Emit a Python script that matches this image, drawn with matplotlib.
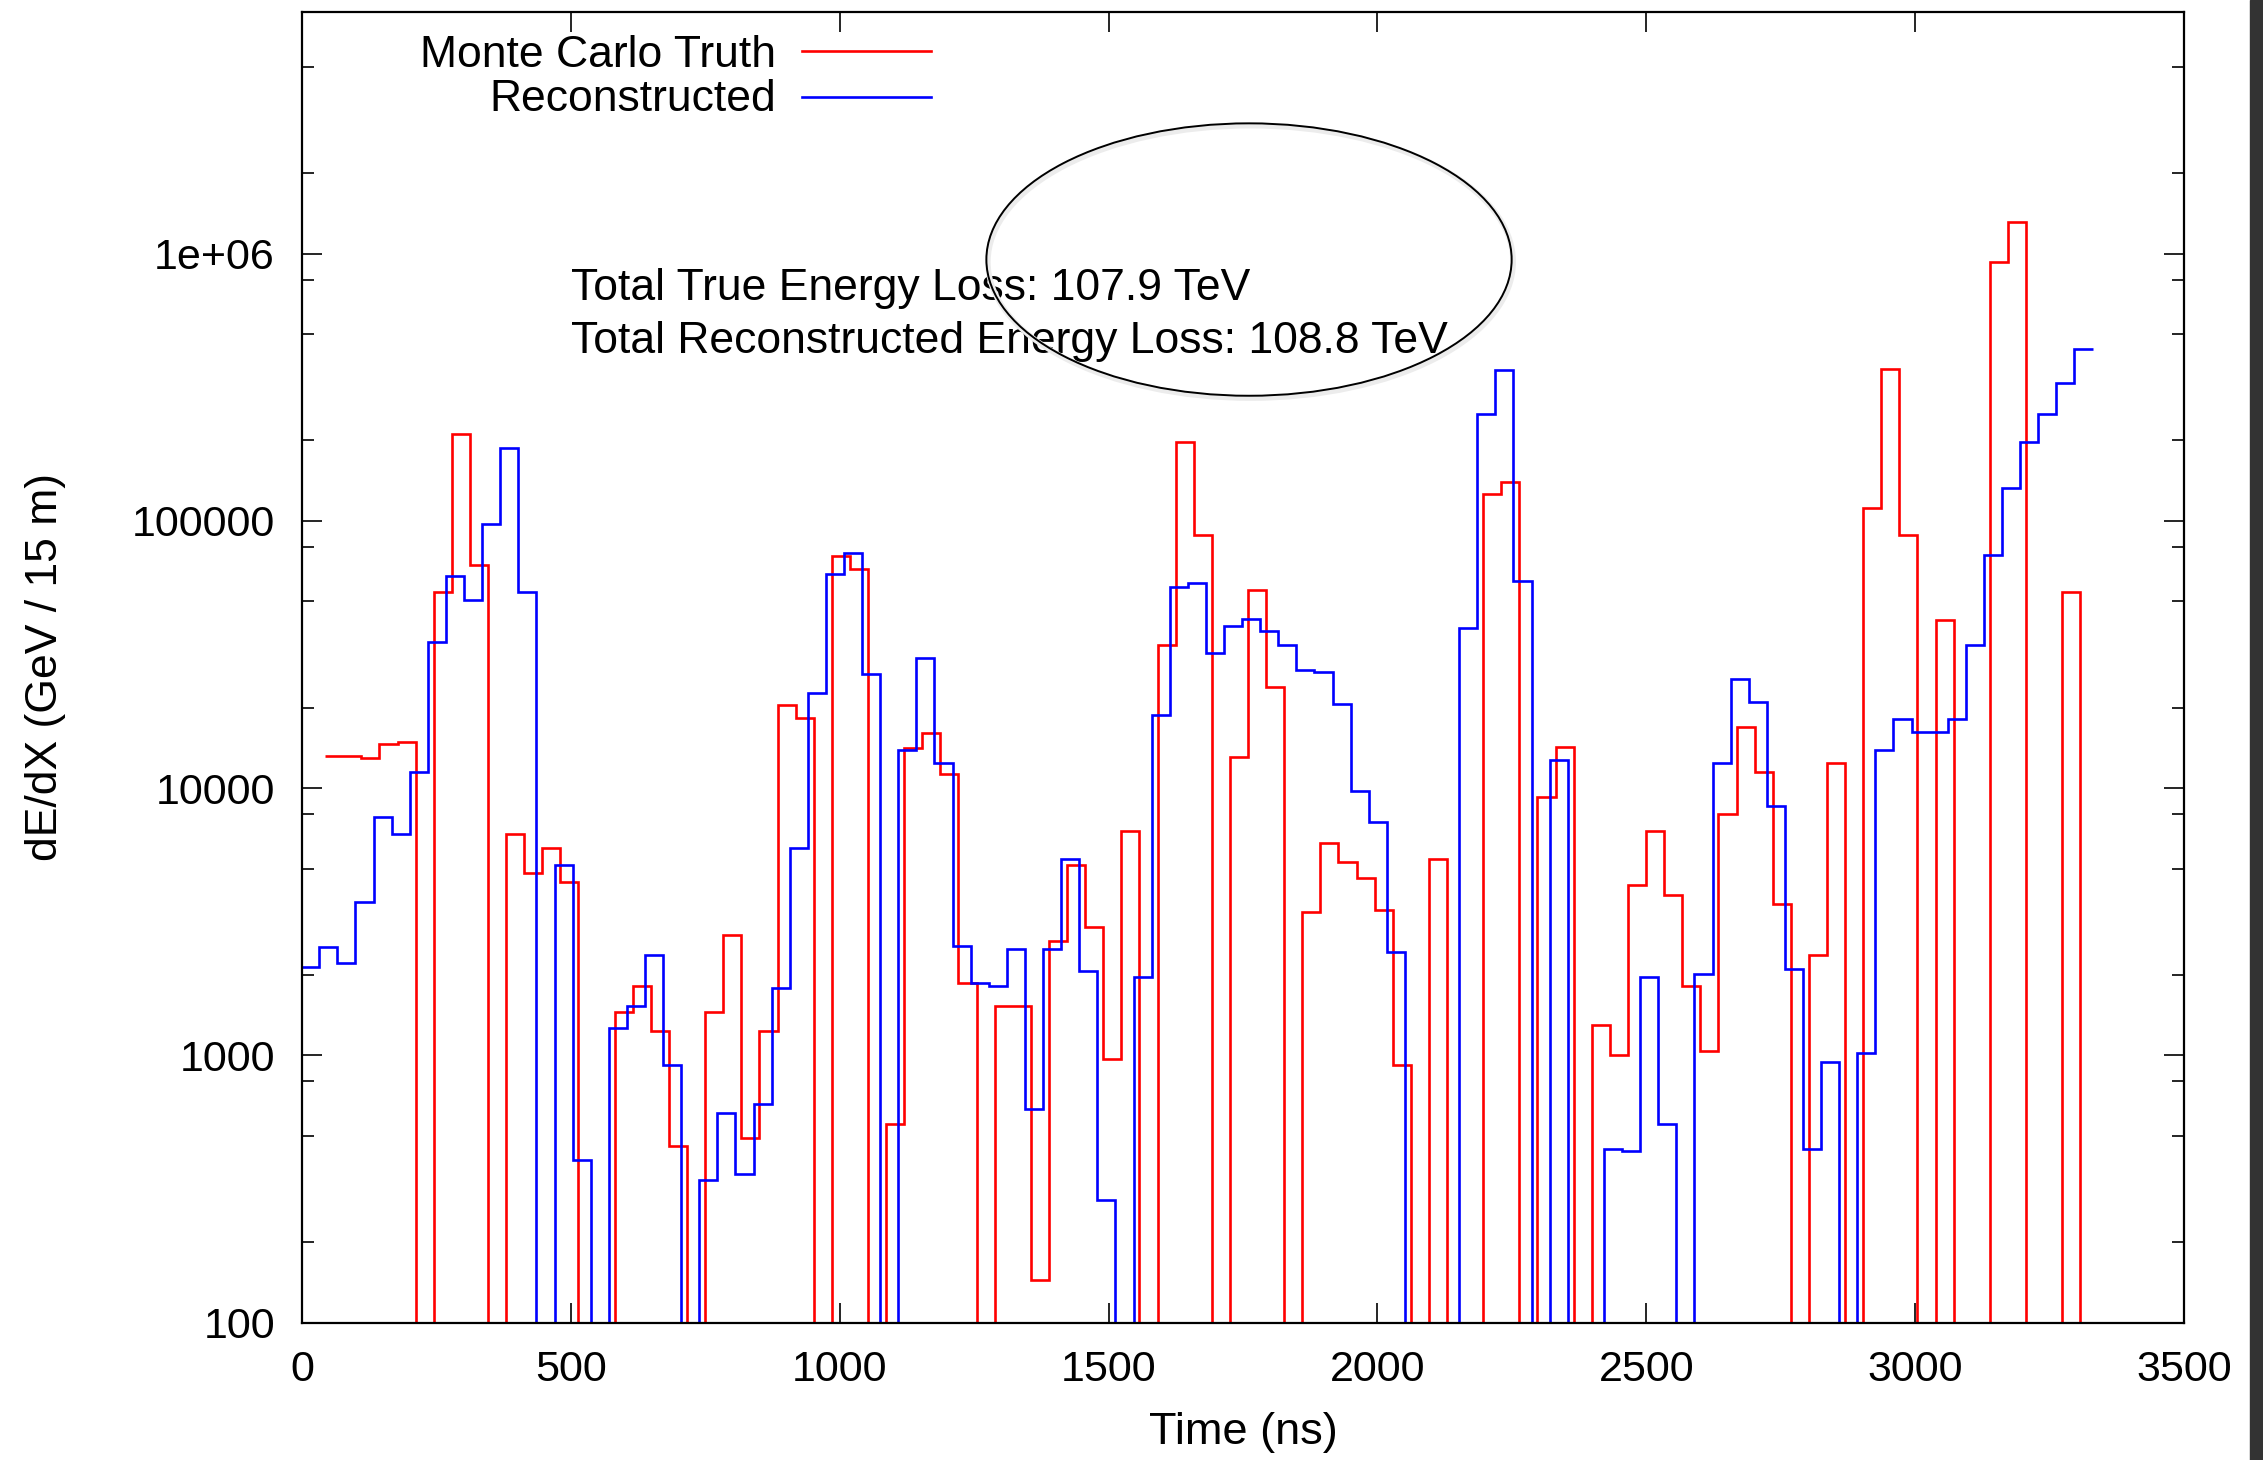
import numpy as np
import matplotlib
matplotlib.use("Agg")
from matplotlib import pyplot as plt
from matplotlib.patches import Ellipse, Rectangle
from matplotlib.ticker import LogLocator, FixedLocator, NullLocator, FuncFormatter

plt.rcParams['font.family'] = ['Liberation Sans', 'DejaVu Sans']

# binning of the two dE/dX histograms (ns)
bin_width_ns = 33.65
reco_start_ns = -1.5
truth_start_ns = 43.1

# Reconstructed dE/dX per bin (GeV / 15 m), 0 = empty bin
reco_dedx = [2150, 2540, 2210, 3760, 7810, 6750, 11500, 35200, 62400, 50700,
             97200, 186700, 54200, 0, 5140, 405, 0, 1263, 1530, 2380,
             923, 0, 341, 608, 359, 657, 1790, 5960, 22600, 63100,
             76100, 26800, 0, 13920, 30800, 12370, 2560, 1858, 1820, 2490,
             631, 2490, 5420, 2060, 288, 0, 1960, 18800, 56800, 58300,
             32000, 40400, 42800, 38600, 34300, 27700, 27100, 20600, 9730, 7450,
             2430, 0, 0, 0, 39600, 252000, 367000, 59800, 0, 12700,
             0, 0, 445, 438, 1960, 553, 0, 2010, 12450, 25500,
             21000, 8550, 2100, 446, 944, 0, 1018, 13900, 18100, 16200,
             16200, 18200, 34200, 74500, 132600, 197700, 250500, 328700, 438900]

# Monte Carlo truth dE/dX per bin (GeV / 15 m)
truth_dedx = [13190, 13190, 12970, 14630, 14940, 0, 54200, 210900, 68200, 0,
              6710, 4830, 5960, 4470, 0, 0, 1454, 1812, 1230, 456,
              0, 1454, 2830, 491, 1230, 20500, 18300, 0, 74100, 65800,
              0, 553, 14100, 16100, 11270, 1867, 0, 1530, 1530, 144,
              2680, 5140, 3020, 972, 6890, 0, 34300, 196700, 88500, 0,
              13040, 55300, 23800, 0, 3430, 6240, 5280, 4590, 3500, 923,
              0, 5420, 0, 0, 126000, 140000, 0, 9230, 14300, 0,
              1296, 1000, 4350, 6890, 3970, 1812, 1036, 7980, 16900, 11480,
              3690, 0, 2380, 12450, 0, 112200, 370400, 88600, 0, 42600,
              0, 0, 929000, 1310000, 0, 0, 54200, 0]

labels = ["Monte Carlo Truth", "Reconstructed"]
colors = ["#ff0000", "#0000ff"]
annotations = ["Total True Energy Loss: 107.9 TeV",
               "Total Reconstructed Energy Loss: 108.8 TeV"]
x_ticks = [0, 500, 1000, 1500, 2000, 2500, 3000, 3500]

FS_TICK = 31
FS = 32
LW = 1.9
floor = 1.0  # empty bins drawn below the axis

fig = plt.figure(figsize=(22.63, 14.60), dpi=100)
ax = fig.add_axes([0.13345, 0.09411, 0.83164, 0.89747])
ax.set_yscale('log')

truth = np.array(truth_dedx, dtype=float)
reco = np.array(reco_dedx, dtype=float)
truth_edges = truth_start_ns + bin_width_ns * np.arange(len(truth) + 1)
reco_edges = reco_start_ns + bin_width_ns * np.arange(len(reco) + 1)

ax.stairs(np.where(truth > 0, truth, floor), truth_edges, baseline=None,
          color=colors[0], lw=LW, label=labels[0])
ax.stairs(np.where(reco > 0, reco, floor), reco_edges, baseline=None,
          color=colors[1], lw=LW, label=labels[1])

ax.set_xlim(0, 3500)
ax.set_ylim(100, 8e6)

ax.xaxis.set_major_locator(FixedLocator(x_ticks))
ax.xaxis.set_minor_locator(NullLocator())
ax.yaxis.set_major_locator(LogLocator(base=10, subs=(1.0,)))
ax.yaxis.set_minor_locator(LogLocator(base=10, subs=(2.0, 5.0, 8.0)))
ax.yaxis.set_major_formatter(FuncFormatter(lambda v, p: '%g' % v))
ax.yaxis.set_minor_formatter(FuncFormatter(lambda v, p: ''))

ax.tick_params(which='both', direction='in', top=True, right=True,
               width=1.2, labelsize=FS_TICK, pad=19.5)
ax.tick_params(which='major', length=14.5)
ax.tick_params(which='minor', length=8.5)
for s in ax.spines.values():
    s.set_linewidth(1.6)

ax.set_xlabel("Time (ns)", fontsize=FS + 0.5, va='baseline')
ax.xaxis.set_label_coords(0.5, -0.0930)
ax.set_ylabel("dE/dX (GeV / 15 m)", fontsize=FS, va='baseline', ha='center',
              rotation_mode='anchor')
ax.yaxis.set_label_coords(-0.1302, 0.5)

# gnuplot style key: text right aligned, sample line to the right
key_text_y = [0.9585, 0.9247]
key_line_y = [0.9705, 0.9356]
for lab, col, ty, ly in zip(labels, colors, key_text_y, key_line_y):
    ax.text(0.2519, ty, lab, transform=ax.transAxes, ha='right',
            va='baseline', fontsize=FS)
    ax.plot([0.2658, 0.3342], [ly, ly], transform=ax.transAxes,
            color=col, lw=LW, clip_on=False)

for txt, ty in zip(annotations, [0.7804, 0.7398]):
    ax.text(0.1429, ty, txt, transform=ax.transAxes, ha='left',
            va='baseline', fontsize=FS)

# hand drawn highlight around the totals
ax.add_patch(Ellipse((0.5040, 0.8095), 0.2791, 0.2079, transform=ax.transAxes,
                     fill=False, edgecolor='#ececec', lw=4, zorder=4))
ax.add_patch(Ellipse((0.5032, 0.8113), 0.2791, 0.2079, transform=ax.transAxes,
                     fill=False, edgecolor='black', lw=1.4, zorder=5))

# dark strip at the right edge of the screenshot
fig.patches.append(Rectangle((2250 / 2263, 0), 13 / 2263, 1,
                             transform=fig.transFigure, color='#333333'))

fig.savefig("out.png", dpi=100)
